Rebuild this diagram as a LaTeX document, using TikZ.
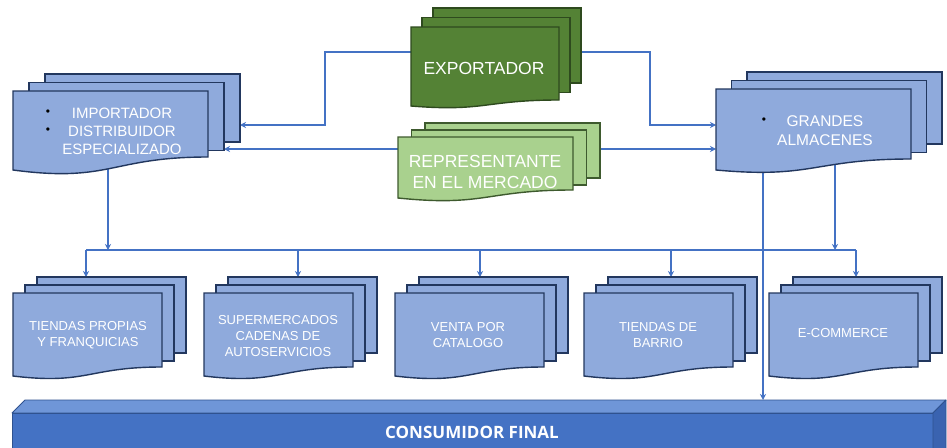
\documentclass[tikz,border=0pt]{standalone}
\usepackage{fontspec}
\setmainfont{Liberation Sans}
\newfontfamily\consfont{Open Sans}
\usetikzlibrary{arrows.meta,calc}
\pgfdeclarelayer{paper}
\pgfdeclarelayer{links}
\pgfsetlayers{paper,links,main}
\definecolor{docblue}{HTML}{8FAADC}
\definecolor{docline}{HTML}{22375E}
\definecolor{dkgreen}{HTML}{548235}
\definecolor{dkgreenline}{HTML}{2E4A1E}
\definecolor{ltgreen}{HTML}{A9D18E}
\definecolor{ltgreenline}{HTML}{3E5A2E}
\definecolor{connblue}{HTML}{4472C4}
\definecolor{constop}{HTML}{6F96D8}
\definecolor{consfront}{HTML}{4472C4}
\definecolor{consside}{HTML}{3A63B0}
\definecolor{consline}{HTML}{2F528F}
\tikzset{
  bluedoc/.style={fill=docblue, draw=docline, line width=1.4pt},
  dkgdoc/.style={fill=dkgreen, draw=dkgreenline, line width=1.4pt},
  ltgdoc/.style={fill=ltgreen, draw=ltgreenline, line width=1.4pt},
  frame/.style={rectangle, inner sep=0pt, outer sep=0pt, draw=none},
  conn/.style={draw=connblue, line width=1.8pt},
  arr/.style={conn, -{Stealth[length=6pt,width=6pt]}},
  dtext/.style={text=white, align=center, inner sep=0pt},
  bigtext/.style={dtext, font=\fontsize{17.5}{21}\selectfont},
  midtext/.style={dtext, font=\fontsize{15}{18}\selectfont},
  smalltext/.style={dtext, font=\fontsize{13}{16}\selectfont},
  bulletmark/.style={text=black, inner sep=0pt, font=\fontsize{12}{12}\selectfont},
  consface/.style={draw=consline, line width=0.8pt, line join=round},
}
\newcommand\offX{16}
\newcommand\offY{8.5}
% name, x, y, w, d (right depth), L (left depth), C (control depth), style
% creates nodes: name (front page), namem (middle page), nameb (back page)
\newcommand\mdoc[8]{%
  \path[#8] ({#2+2*\offX},{#3-2*\offY}) rectangle ++(#4,{#5+2});
  \path[#8] ({#2+\offX},{#3-\offY}) rectangle ++(#4,{#5+2});
  \path[#8] (#2,#3) -- ++(#4,0) -- ++(0,#5)
     .. controls ({#2+0.5*#4},{#3+#5}) and ({#2+0.5*#4},{#3+#7}) .. (#2,{#3+#6}) -- cycle;
  \node[frame, anchor=north west, minimum width=#4*1pt, minimum height=#5*1pt] (#1) at (#2,#3) {};
  \node[frame, anchor=north west, minimum width=#4*1pt, minimum height=(#5+2)*1pt] (#1m) at ({#2+\offX},{#3-\offY}) {};
  \node[frame, anchor=north west, minimum width=#4*1pt, minimum height=(#5+2)*1pt] (#1b) at ({#2+2*\offX},{#3-2*\offY}) {};
}
\begin{document}
\begin{tikzpicture}[x=1pt,y=-1pt]
\begin{pgfonlayer}{paper}
\fill[white] (0,0) rectangle (947,447);
\end{pgfonlayer}
\useasboundingbox (0,0) rectangle (947,447);

% ---------- documents ----------
\renewcommand\offX{16}\renewcommand\offY{8.5}
\mdoc{imp}{13}{91}{195}{66}{79}{92}{bluedoc}
\renewcommand\offX{11}\renewcommand\offY{9.5}
\mdoc{exp}{411}{27}{148}{73}{79}{85}{dkgdoc}
\renewcommand\offX{13.5}\renewcommand\offY{7}
\mdoc{rep}{398}{137}{175}{53}{61}{70}{ltgdoc}
\renewcommand\offX{15.5}\renewcommand\offY{8.5}
\mdoc{gra}{716}{89}{195}{70}{81}{90}{bluedoc}
\renewcommand\offX{12}\renewcommand\offY{8}
\mdoc{tp}{13}{293}{149}{74}{83}{92}{bluedoc}
\mdoc{sm}{204}{293}{149}{74}{83}{92}{bluedoc}
\mdoc{vp}{395}{293}{149}{74}{83}{92}{bluedoc}
\mdoc{tb}{584}{293}{149}{74}{83}{92}{bluedoc}
\mdoc{ec}{769}{293}{149}{74}{83}{92}{bluedoc}

% ---------- texts ----------
\node[midtext] (impT) at (122,131) {IMPORTADOR\\DISTRIBUIDOR\\ESPECIALIZADO};
\node[bulletmark] (impB1) at (48,113) {\textbullet};
\node[bulletmark] (impB2) at (48,131) {\textbullet};
\node[bigtext] (expT) at (484,68) {EXPORTADOR};
\node[bigtext] (repT) at (485,171.5) {REPRESENTANTE\\EN EL MERCADO};
\node[dtext, font=\fontsize{15.5}{19}\selectfont] (graT) at (825,130.5) {GRANDES\\ALMACENES};
\node[bulletmark] (graB) at (764,121) {\textbullet};
\node[smalltext] (tpT) at (88,335) {TIENDAS PROPIAS\\Y FRANQUICIAS};
\node[smalltext] (smT) at (278,336) {SUPERMERCADOS\\CADENAS DE\\AUTOSERVICIOS};
\node[smalltext] (vpT) at (468,335) {VENTA POR\\CATALOGO};
\node[smalltext] (tbT) at (658,335) {TIENDAS DE\\BARRIO};
\node[smalltext] (ecT) at (843,333) {E-COMMERCE};

% ---------- consumidor final ----------
\path[consface, fill=constop] (12,413) -- (25,400) -- (946,400) -- (933,413) -- cycle;
\path[consface, fill=consfront] (12,413) rectangle (933,449);
\path[consface, fill=consside] (933,413) -- (946,400) -- (946,449) -- (933,449) -- cycle;
\node[frame, anchor=north west, minimum width=934pt, minimum height=47pt] (cons) at (12,400) {};
\node[text=white, inner sep=0pt, font=\consfont\bfseries\fontsize{17}{20}\selectfont] (consT) at (472,432) {CONSUMIDOR FINAL};

% ---------- helper coordinates ----------
\coordinate (lvA) at (0,52);
\coordinate (lvB) at (0,125);
\coordinate (lvC) at (0,149);
\coordinate (bus) at (0,250);
\coordinate (jL) at (325,0);
\coordinate (jR) at (650,0);
\coordinate (xI) at (108,0);
\coordinate (xG1) at (763,0);
\coordinate (xG2) at (835,0);
\coordinate (x1) at (86,0);
\coordinate (x2) at (298,0);
\coordinate (x3) at (480,0);
\coordinate (x4) at (671,0);
\coordinate (x5) at (856,0);

% ---------- connectors (behind the documents) ----------
\begin{pgfonlayer}{links}
\draw[arr] (exp.west|-lvA) -| (jL|-lvB) -- (impb.east|-lvB);
\draw[arr] (expb.east|-lvA) -| (jR|-lvB) -- (gra.west|-lvB);
\draw[arr] (rep.west|-lvC) -- (impm.east|-lvC);
\draw[arr] (repb.east|-lvC) -- (gra.west|-lvC);
\draw[arr] (xI|-imp.south) -- (xI|-bus);
\draw[conn] (x1|-bus) -- (x5|-bus);
\draw[arr] (x1|-bus) -- (x1|-tpb.north);
\draw[arr] (x2|-bus) -- (x2|-smb.north);
\draw[arr] (x3|-bus) -- (x3|-vpb.north);
\draw[arr] (x4|-bus) -- (x4|-tbb.north);
\draw[arr] (x5|-bus) -- (x5|-ecb.north);
\draw[arr] (xG2|-gra.south) -- (xG2|-bus);
\draw[arr] (xG1|-gra.south) -- (xG1|-cons.north);
\end{pgfonlayer}
\end{tikzpicture}
\end{document}
